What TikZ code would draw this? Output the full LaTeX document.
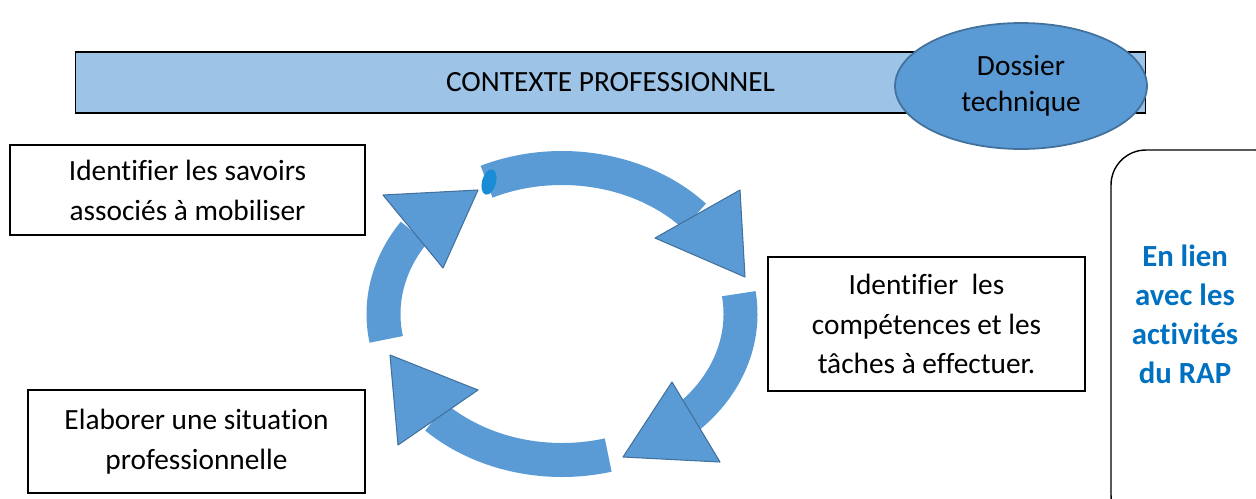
\documentclass[tikz,border=0pt]{standalone}
\usepackage{fontspec}
\setmainfont{Carlito}[Ligatures=NoCommon]
\usetikzlibrary{shapes.geometric}

\definecolor{bandeau}{HTML}{9DC3E6}
\definecolor{flecheb}{HTML}{5B9BD5}
\definecolor{bordb}{HTML}{41719C}
\definecolor{texteb}{HTML}{0070C0}
\definecolor{tache}{HTML}{1A8CD6}

\tikzset{
    etape/.style={draw=black, line width=0.8pt, align=center, inner sep=0pt, font=\fontsize{16.7}{22.7}\selectfont},
    arcfleche/.style={draw=flecheb, line width=0.68cm},
    pointe/.style={fill=flecheb, draw=bordb, line width=0.6pt, line join=round}
}

\begin{document}
\begin{tikzpicture}[x=0.02cm, y=-0.02cm]
        \useasboundingbox (0,0) rectangle (1256,498);
        \clip (0,0) rectangle (1256,498);
        % bandeau du haut
        \node[etape, fill=bandeau, minimum width=21.4cm, minimum height=1.22cm] (contexte) at (610.5,82.5) {CONTEXTE PROFESSIONNEL};
        \node[ellipse, draw=bordb, fill=flecheb, line width=1pt, minimum width=5.04cm, minimum height=2.52cm, align=center, inner sep=0pt, font=\fontsize{16.7}{20.5}\selectfont] (dossier) at (1021,86) {Dossier\\technique};
        % les trois etapes
        \node[etape, minimum width=7.1cm, minimum height=1.8cm] (savoirs) at (187.5,190) {Identifier les savoirs\\associés à mobiliser};
        \node[etape, minimum width=6.74cm, minimum height=2.06cm] (situation) at (196.5,441.5) {Elaborer une situation\\professionnelle};
        \node[etape, minimum width=6.34cm, minimum height=2.68cm] (competences) at (926.5,324) {Identifier~~les\\compétences et les\\tâches à effectuer.};
        % cadre de droite
        \draw[line width=0.8pt, rounded corners=0.7cm] (1111,150) rectangle (1290,530);
        \node[align=center, text=texteb, font=\fontsize{17.5}{22.2}\selectfont\bfseries] (rap) at (1185,314) {En lien\\avec les\\activités\\du RAP};
        % cycle de fleches
        \coordinate (centre) at (562,314);
        \draw[arcfleche] (centre) ++(245:178.5 and 146) arc[start angle=245, end angle=318, x radius=178.5, y radius=146];
        \draw[arcfleche] (centre) ++(352:178.5 and 146) arc[start angle=352, end angle=405, x radius=178.5, y radius=146];
        \draw[arcfleche] (centre) ++(75:178.5 and 146) arc[start angle=75, end angle=135, x radius=178.5, y radius=146];
        \draw[arcfleche] (centre) ++(170:178.5 and 146) arc[start angle=170, end angle=214, x radius=178.5, y radius=146];
        \draw[pointe] (740,190) -- (745,277) -- (655,238) -- cycle;
        \draw[pointe] (672,382) -- (623,457) -- (720,462) -- cycle;
        \draw[pointe] (478,390) -- (390,355) -- (398,445) -- cycle;
        \draw[pointe] (383,195) -- (478,190) -- (443,268) -- cycle;
        \fill[tache, rotate around={-15:(489,182)}] (489,182) ellipse[x radius=7, y radius=13];
    \end{tikzpicture}
\end{document}
